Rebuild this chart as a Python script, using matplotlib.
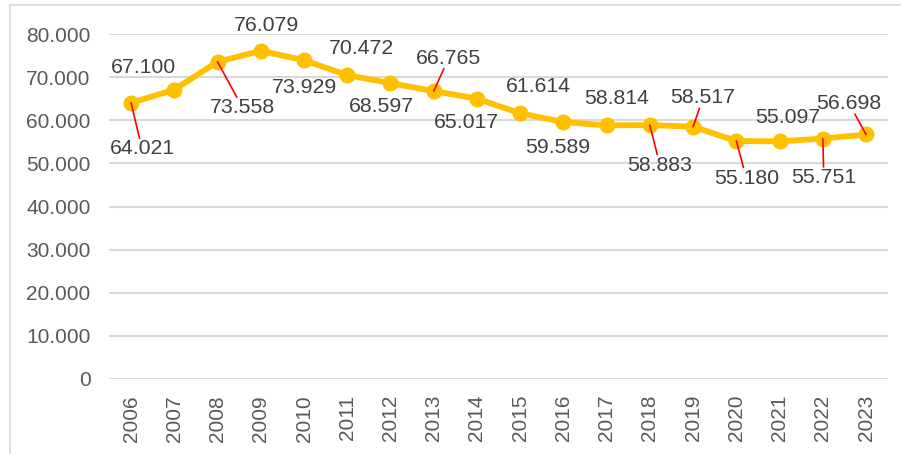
import matplotlib.pyplot as plt
from matplotlib.lines import Line2D
from matplotlib.ticker import FuncFormatter

plt.rcParams['font.family'] = ['Liberation Sans', 'DejaVu Sans']

years = [str(y) for y in range(2006, 2024)]
values = [64021, 67100, 73558, 76079, 73929, 70472, 68597, 66765, 65017,
          61614, 59589, 58814, 58883, 58517, 55180, 55097, 55751, 56698]
labels = ["64.021", "67.100", "73.558", "76.079", "73.929", "70.472", "68.597",
          "66.765", "65.017", "61.614", "59.589", "58.814", "58.883", "58.517",
          "55.180", "55.097", "55.751", "56.698"]

# label offsets in pixels from the point, and whether a leader line is drawn
offsets = [(11, -46), (-31, 22), (25, -46), (6, 25), (0, -27), (14, 27),
           (-9, -23), (15, 33), (-11, -24), (18, 27), (-6, -25), (10, 27),
           (10, -40), (10, 29), (10, -37), (8, 24), (1, -39), (-17, 31)]
leaders = [True, False, True, False, False, False, False, True, False,
           False, False, False, True, True, True, False, True, True]

fig = plt.figure(figsize=(9.01, 4.54), dpi=100)
ax = fig.add_axes([0.1215, 0.1652, 0.8637, 0.7599])

x = list(range(len(years)))
ax.plot(x, values, color='#FFC000', lw=4.2, marker='o', ms=10.5,
        mec='#FFC000', zorder=3)

for i, (v, lab) in enumerate(zip(values, labels)):
    dx, dy = offsets[i]
    kw = {}
    if leaders[i]:
        kw['arrowprops'] = dict(arrowstyle='-', color='red', lw=1.2,
                                shrinkA=0, shrinkB=0)
    ax.annotate(lab, (i, v), xytext=(dx, dy), textcoords='offset pixels',
                ha='center', va='center', fontsize=15.3, color='#404040',
                bbox=dict(boxstyle='square,pad=0.05', fc='none', ec='none'),
                zorder=4, **kw)

ax.set_xlim(-0.5, len(years) - 0.5)
ax.set_ylim(0, 80000)
ax.set_yticks(range(0, 80001, 10000))
ax.yaxis.set_major_formatter(FuncFormatter(lambda v, p: f"{v:,.0f}".replace(",", ".")))
ax.set_xticks(x)
ax.set_xticklabels(years, rotation=90)
ax.tick_params(axis='y', length=0, pad=13.5, labelsize=15, labelcolor='#595959')
ax.tick_params(axis='x', length=0, pad=11.5, labelsize=15, labelcolor='#595959')
ax.grid(axis='y', color='#D9D9D9', lw=1.5)
ax.set_axisbelow(True)
for s in ax.spines.values():
    s.set_visible(False)

# chart border (only left and top visible in the crop)
fig.add_artist(Line2D([10 / 901, 10 / 901], [0, 1 - 4.5 / 454], color='#D9D9D9', lw=1.2))
fig.add_artist(Line2D([10 / 901, 1], [1 - 4.5 / 454, 1 - 4.5 / 454], color='#D9D9D9', lw=1.2))

fig.savefig('out.png', dpi=100)
